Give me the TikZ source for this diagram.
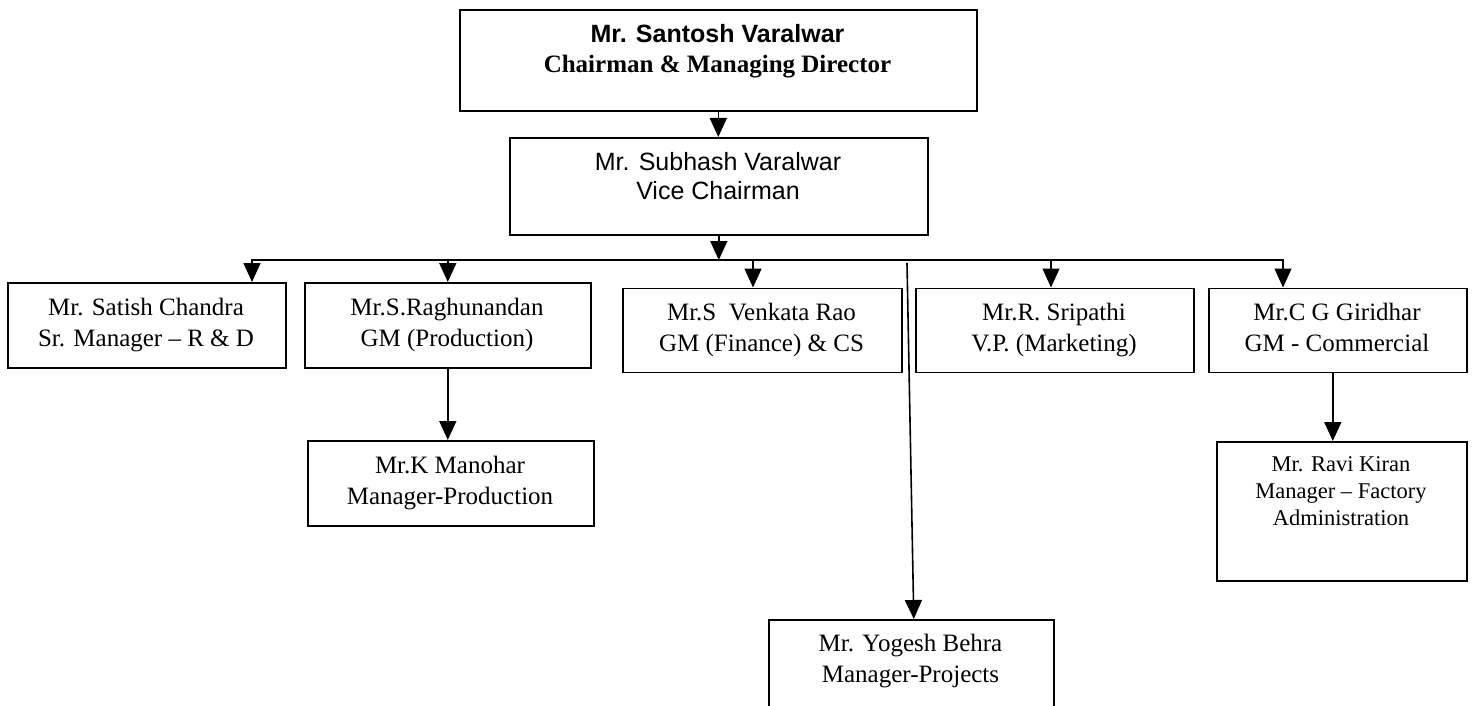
\documentclass[tikz,border=0pt]{standalone}
\usepackage{fontspec}
\setmainfont{Liberation Serif}
\newfontfamily\arialf{Liberation Sans}
\usetikzlibrary{arrows.meta}
\newcommand{\orgtxt}[2]{\parbox[t]{#1}{\centering #2}}
\begin{document}
\begin{tikzpicture}[x=1pt,y=-1pt,
  box/.style={draw, line width=1.6pt, inner sep=0pt, anchor=north west},
  txt/.style={anchor=base, inner sep=0pt, font=\fontsize{25}{31}\selectfont},
  arr/.style={line width=1.6pt, -{Triangle[length=19pt,width=17pt]}},
  ln/.style={line width=1.6pt, line cap=rect}]
\useasboundingbox (0,0) rectangle (1476,706);
\fill[white] (0,0) rectangle (1476,706);
\clip (0,0) rectangle (1476,706);
% top level
\node[box, minimum width=517pt, minimum height=101pt] (cmd) at (459,9) {};
\node[txt, font=\fontsize{25}{30}\selectfont] (cmd-t) at (717.5,43)
  {\orgtxt{510pt}{{\arialf\bfseries Mr. Santosh Varalwar}\\\bfseries Chairman \& Managing Director}};
\node[box, minimum width=418pt, minimum height=97pt] (vc) at (509,137) {};
\node[txt, font=\arialf\fontsize{25}{29}\selectfont] (vc-t) at (718,171)
  {\orgtxt{410pt}{Mr. Subhash Varalwar\\Vice Chairman}};
% second row
\node[box, minimum width=278pt, minimum height=85pt] (b1) at (7,282) {};
\node[txt] (b1-t) at (146,315) {\orgtxt{275pt}{Mr. Satish Chandra\\Sr. Manager – R \& D}};
\node[box, minimum width=286pt, minimum height=85pt] (b2) at (304,282) {};
\node[txt] (b2-t) at (447,315) {\orgtxt{280pt}{Mr.S.Raghunandan\\GM (Production)}};
\node[box, minimum width=279pt, minimum height=84pt] (b3) at (622,287.5) {};
\node[txt] (b3-t) at (761.5,320) {\orgtxt{275pt}{Mr.S\ \ Venkata Rao\\GM (Finance) \& CS}};
\node[box, minimum width=278pt, minimum height=84pt] (b4) at (915,287.5) {};
\node[txt] (b4-t) at (1054,320) {\orgtxt{275pt}{Mr.R. Sripathi\\V.P. (Marketing)}};
\node[box, minimum width=258pt, minimum height=84pt] (b5) at (1208,287.5) {};
\node[txt] (b5-t) at (1337,320) {\orgtxt{255pt}{Mr.C G Giridhar\\GM - Commercial}};
% third level
\node[box, minimum width=286pt, minimum height=85pt] (mk) at (307,440) {};
\node[txt] (mk-t) at (450,473) {\orgtxt{280pt}{Mr.K Manohar\\Manager-Production}};
\node[box, minimum width=250pt, minimum height=139pt] (rk) at (1216,441) {};
\node[txt, font=\fontsize{22.5}{27}\selectfont] (rk-t) at (1341,471)
  {\orgtxt{245pt}{Mr. Ravi Kiran\\Manager – Factory\\Administration}};
\node[box, minimum width=285pt, minimum height=120pt] (yb) at (768,619) {};
\node[txt] (yb-t) at (910.5,651) {\orgtxt{280pt}{Mr. Yogesh Behra\\Manager-Projects}};
% connectors
\coordinate (busL) at (252,260);
\coordinate (busR) at (1283,260);
\coordinate (d3) at (753,260);
\coordinate (d4) at (1051,260);
\coordinate (ys) at (907,263);
\draw[ln] (busL) -- (busR);
\draw[arr] (cmd.south) -- (cmd.south |- vc.north);
\draw[arr] (vc.south) -- (vc.south |- busL);
\draw[arr] (busL) -- (busL |- b1.north);
\draw[arr] (b2.north |- busL) -- (b2.north);
\draw[arr] (d3) -- (d3 |- b3.north);
\draw[arr] (d4) -- (d4 |- b4.north);
\draw[arr] (busR) -- (busR |- b5.north);
\draw[arr] (b2.south) -- (b2.south |- mk.north);
\draw[arr] ([xshift=-5pt]b5.south) -- ([xshift=-5pt]b5.south |- rk.north);
\draw[arr] (ys) -- ([xshift=2.5pt]yb.north);
\end{tikzpicture}
\end{document}
